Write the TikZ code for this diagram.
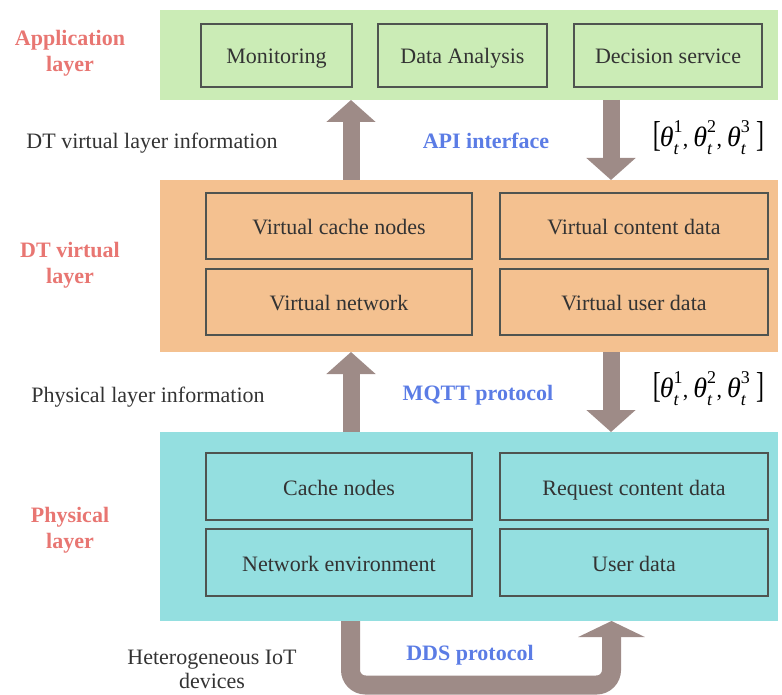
\documentclass[tikz,border=0pt]{standalone}
\usepackage{graphicx}
\usepackage{fontspec}
\setmainfont{Liberation Serif}
\usetikzlibrary{arrows.meta}
\definecolor{appg}{HTML}{CBECB6}
\definecolor{dto}{HTML}{F4C190}
\definecolor{phc}{HTML}{94DFE0}
\definecolor{arr}{HTML}{9E8B87}
\definecolor{bord}{HTML}{4F5450}
\definecolor{redl}{HTML}{E87672}
\definecolor{blul}{HTML}{5B7CE5}
\definecolor{txt}{HTML}{333333}
\newcommand{\mythv}[1]{{\fontsize{28pt}{28pt}\selectfont\textit{θ}}\makebox[0pt][l]{\raisebox{14pt}{\fontsize{18pt}{18pt}\selectfont #1}}\raisebox{-8pt}{\fontsize{18pt}{18pt}\selectfont\textit{t}}\hspace{1pt}}
\newcommand{\mybrk}[1]{{\fontsize{24pt}{24pt}\selectfont\scalebox{1}[1.5]{#1}}}
\newcommand{\mythvec}{\mybrk{[}\hspace{-1pt}\mythv{1}\hspace{3pt},\hspace{5pt}\mythv{2}\hspace{3pt},\hspace{5pt}\mythv{3}\hspace{9pt}\mybrk{]}}
\begin{document}
\begin{tikzpicture}[x=1pt,y=-1pt,
  every node/.style={font=\fontsize{22pt}{26pt}\selectfont, inner sep=0pt, outer sep=0pt},
  layerbg/.style={draw=none, minimum width=618pt},
  inbox/.style={draw=bord, line width=1.6pt, text=txt, text height=21pt, text depth=4pt},
  oneline/.style={text height=21pt, text depth=4pt},
  layername/.style={text=redl, font=\fontsize{22pt}{26pt}\selectfont\bfseries, align=center},
  sidetext/.style={text=txt, align=center},
  proto/.style={text=blul, font=\fontsize{22pt}{26pt}\selectfont\bfseries, oneline},
  barrow/.style={draw=arr, line width=17pt, -{Triangle[length=22pt,width=48pt]}},
]
\useasboundingbox (0,0) rectangle (782,695);

% layer backgrounds
\node[layerbg, fill=appg, minimum height=90pt] (app) at (469,55) {};
\node[layerbg, fill=dto, minimum height=172pt] (dt) at (469,266) {};
\node[layerbg, fill=phc, minimum height=189pt] (phys) at (469,526.5) {};

% application boxes
\node[inbox, minimum width=151pt, minimum height=63pt] (mon) at (276.5,55.5) {Monitoring};
\node[inbox, minimum width=169pt, minimum height=63pt] (ana) at (462.5,55.5) {Data Analysis};
\node[inbox, minimum width=188pt, minimum height=63pt] (dec) at (668,55.5) {Decision service};

% DT boxes
\node[inbox, minimum width=266pt, minimum height=66pt] (vcn) at (339,226) {Virtual cache nodes};
\node[inbox, minimum width=268pt, minimum height=66pt] (vcd) at (634,226) {Virtual content data};
\node[inbox, minimum width=266pt, minimum height=66pt] (vnw) at (339,302) {Virtual network};
\node[inbox, minimum width=268pt, minimum height=66pt] (vud) at (634,302) {Virtual user data};

% physical boxes
\node[inbox, minimum width=266pt, minimum height=67pt] (cn) at (339,486.5) {Cache nodes};
\node[inbox, minimum width=268pt, minimum height=67pt] (rcd) at (634,486.5) {Request content data};
\node[inbox, minimum width=266pt, minimum height=67pt] (ne) at (339,562.5) {Network environment};
\node[inbox, minimum width=268pt, minimum height=67pt] (ud) at (634,562.5) {User data};

% layer names
\node[layername] (ln1) at (70,53) {Application\\layer};
\node[layername] (ln2) at (70,265) {DT virtual\\layer};
\node[layername] (ln3) at (70,530) {Physical\\layer};

% side texts
\node[sidetext, oneline] (s1) at (152,140) {DT virtual layer information};
\node[sidetext, oneline] (s2) at (148,393.5) {Physical layer information};
\node[sidetext, font=\fontsize{22pt}{24pt}\selectfont] (s3) at (212,669) {Heterogeneous IoT\\devices};

% protocol labels
\node[proto] (p1) at (486,140) {API interface};
\node[proto] (p2) at (478,392) {MQTT protocol};
\node[proto] (p3) at (470,651.5) {DDS protocol};

% theta vectors
\node[oneline] (th1) at (708.5,138.5) {\mythvec};
\node[oneline] (th2) at (708.5,388.5) {\mythvec};

% arrows
\coordinate (cu) at (351,0);
\coordinate (cd) at (611,0);
\draw[barrow] (dt.north -| cu) -- (app.south -| cu);
\draw[barrow] (app.south -| cd) -- (dt.north -| cd);
\draw[barrow] (phys.north -| cu) -- (dt.south -| cu);
\draw[barrow] (dt.south -| cd) -- (phys.north -| cd);

% DDS U-arrow
\coordinate (ul) at (350.5,685);
\coordinate (ur) at (611.5,685);
\draw[draw=arr, line width=19pt, rounded corners=15pt, -{Triangle[length=16pt,width=66pt]}]
  (phys.south -| ul) -- (ul) -- (ur) -- (phys.south -| ur);
\end{tikzpicture}
\end{document}
